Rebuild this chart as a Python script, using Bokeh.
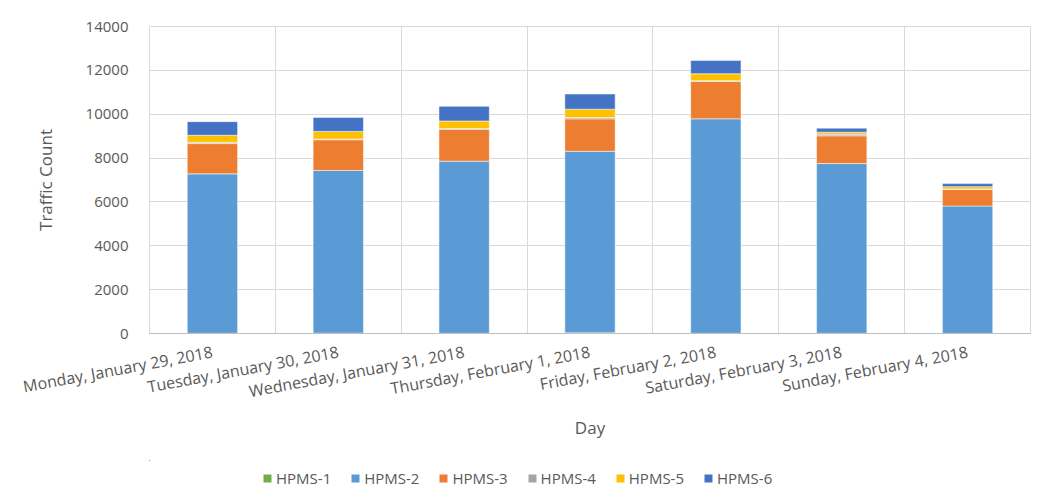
import math
from bokeh.plotting import figure
from bokeh.layouts import column
from bokeh.models import ColumnDataSource, FixedTicker, Legend, LegendItem
from bokeh.embed import file_html
from bokeh.resources import INLINE

days = [
    "Monday, January 29, 2018",
    "Tuesday, January 30, 2018",
    "Wednesday, January 31, 2018",
    "Thursday, February 1, 2018",
    "Friday, February 2, 2018",
    "Saturday, February 3, 2018",
    "Sunday, February 4, 2018",
]
series = ["HPMS-1", "HPMS-2", "HPMS-3", "HPMS-4", "HPMS-5", "HPMS-6"]
hpms1 = [10, 15, 10, 30, 10, 10, 5]
hpms2 = [7270, 7420, 7850, 8280, 9780, 7740, 5810]
hpms3 = [1380, 1400, 1450, 1480, 1700, 1265, 755]
hpms4 = [60, 30, 40, 60, 40, 75, 20]
hpms5 = [320, 350, 340, 380, 315, 90, 105]
hpms6 = [620, 640, 670, 690, 610, 185, 140]
colors = ["#70ad47", "#5b9bd5", "#ed7d31", "#a5a5a5", "#ffc000", "#4472c4"]
y_ticks = [0, 2000, 4000, 6000, 8000, 10000, 12000, 14000]

xs = list(range(len(days)))
source = ColumnDataSource(dict(
    x=xs,
    **{"HPMS-1": hpms1, "HPMS-2": hpms2, "HPMS-3": hpms3,
       "HPMS-4": hpms4, "HPMS-5": hpms5, "HPMS-6": hpms6},
))

FONT = "Open Sans"
GRAY = "#595959"

# ---- main chart ----
p = figure(width=1032, height=460, x_range=(-0.5, len(days) - 0.5), y_range=(0, 14000),
           output_backend="svg", toolbar_location=None,
           min_border_left=149, min_border_top=26, min_border_right=2, min_border_bottom=127)
p.background_fill_color = "white"
p.border_fill_color = "white"
p.outline_line_color = "#d9d9d9"

p.vbar_stack(series, x="x", width=0.4, color=colors, source=source,
             line_color="white", line_alpha=0.5, line_width=1)

# x axis
p.xaxis.ticker = FixedTicker(ticks=xs)
p.xaxis.major_label_overrides = {i: d for i, d in enumerate(days)}
p.xaxis.major_label_orientation = math.radians(10.5)
p.xaxis.major_label_text_font = FONT
p.xaxis.major_label_text_font_size = "16px"
p.xaxis.major_label_text_color = GRAY
p.xaxis.major_tick_line_color = None
p.xaxis.minor_tick_line_color = None
p.xaxis.axis_line_color = "#bfbfbf"
p.xaxis.major_label_standoff = 12
p.xaxis.axis_label = "Day"
p.xaxis.axis_label_text_font = FONT
p.xaxis.axis_label_text_font_size = "17px"
p.xaxis.axis_label_text_font_style = "normal"
p.xaxis.axis_label_text_color = GRAY
p.xaxis.axis_label_standoff = 0

# y axis
p.yaxis.ticker = FixedTicker(ticks=y_ticks)
p.yaxis.major_label_text_font = FONT
p.yaxis.major_label_text_font_size = "15px"
p.yaxis.major_label_text_color = GRAY
p.yaxis.major_tick_line_color = None
p.yaxis.minor_tick_line_color = None
p.yaxis.axis_line_color = None
p.yaxis.major_label_standoff = 15
p.yaxis.axis_label = "Traffic Count"
p.yaxis.axis_label_text_font = FONT
p.yaxis.axis_label_text_font_size = "17px"
p.yaxis.axis_label_text_font_style = "normal"
p.yaxis.axis_label_text_color = GRAY
p.yaxis.axis_label_standoff = 26

# grids
p.xgrid.ticker = FixedTicker(ticks=[i - 0.5 for i in range(len(days) + 1)])
p.xgrid.grid_line_color = "#d9d9d9"
p.ygrid.ticker = FixedTicker(ticks=y_ticks)
p.ygrid.grid_line_color = "#d9d9d9"

# ---- legend strip (same series; its ranges keep the bars out of view) ----
lg = figure(width=1032, height=40, x_range=(100, 200), y_range=(-2, -1),
            output_backend="svg", toolbar_location=None,
            min_border_left=0, min_border_right=0, min_border_top=0, min_border_bottom=0)
lg.axis.visible = False
lg.grid.visible = False
lg.outline_line_color = None
lg.background_fill_color = "white"
lg.border_fill_color = "white"
legend_renderers = lg.vbar_stack(series, x="x", width=0.4, color=colors, source=source,
                                 line_color=None)

legend = Legend(
    items=[LegendItem(label=s, renderers=[r]) for s, r in zip(series, legend_renderers)],
    orientation="horizontal", location=(113, 12),
    glyph_width=10, glyph_height=10, label_standoff=4, spacing=19,
    padding=0, margin=0, border_line_color=None, background_fill_alpha=0,
    label_text_font=FONT, label_text_font_size="15px", label_text_color=GRAY,
)
lg.add_layout(legend, "center")

layout = column(p, lg, spacing=0)
open("out.html", "w").write(file_html(layout, INLINE))
